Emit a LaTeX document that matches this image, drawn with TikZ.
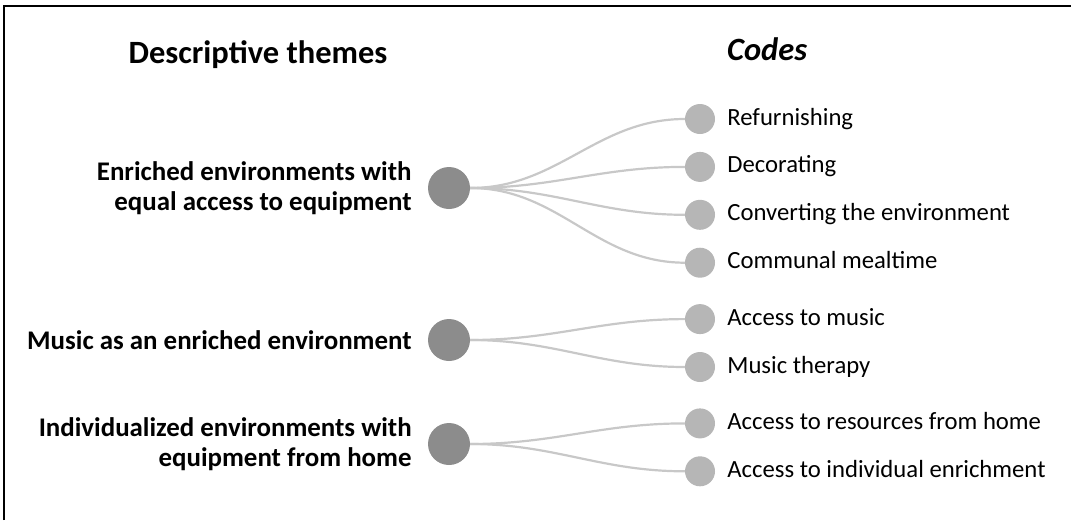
\documentclass[tikz,border=0pt]{standalone}
\usepackage{fontspec}
\setmainfont{Carlito}
\usetikzlibrary{positioning}
\definecolor{themegray}{RGB}{140,140,140}
\definecolor{codegray}{RGB}{182,182,182}
\definecolor{linkgray}{RGB}{200,200,200}

\begin{document}
\begin{tikzpicture}[x=1pt,y=-1pt,node distance=17.5pt,
  theme/.style={circle,fill=themegray,minimum size=42pt,inner sep=0pt},
  code/.style={circle,fill=codegray,minimum size=30pt,inner sep=0pt},
  themetext/.style={font=\fontsize{26.9}{30}\selectfont\bfseries,align=right,inner sep=0pt},
  codetext/.style={font=\fontsize{24.7}{29}\selectfont,inner sep=0pt,text height=16pt,text depth=4pt},
  heading/.style={font=\fontsize{32.5}{38}\selectfont\bfseries,inner sep=0pt},
  link/.style={draw=linkgray,line width=2.2pt,out=0,in=180}]
  \useasboundingbox (0,0) rectangle (1071,520);
  \draw[line width=2pt] (4,520) -- (4,5.5) -- (1071,5.5);

  \node[heading,anchor=base] (hthemes) at (258,63) {Descriptive themes};
  \node[heading,anchor=base west] (hcodes) at (727,60) {\itshape Codes};

  \node[code] (c1) at (700,119) {};
  \node[code] (c2) [below=of c1] {};
  \node[code] (c3) [below=of c2] {};
  \node[code] (c4) [below=of c3] {};
  \node[code] (c5) [below=26pt of c4] {};
  \node[code] (c6) [below=of c5] {};
  \node[code] (c7) [below=26pt of c6] {};
  \node[code] (c8) [below=of c7] {};

  \node[theme] (t1) at (449,188) {};
  \node[theme] (t2) at (449,340) {};
  \node[theme] (t3) at (449,444) {};

  \node[themetext] (l1) [left=16pt of t1] {Enriched environments with\\equal access to equipment};
  \node[themetext] (l2) [left=16pt of t2] {Music as an enriched environment};
  \node[themetext] (l3) [left=16pt of t3] {Individualized environments with\\equipment from home};

  \node[codetext] (k1) [right=12pt of c1] {Refurnishing};
  \node[codetext] (k2) [right=12pt of c2] {Decorating};
  \node[codetext] (k3) [right=12pt of c3] {Converting the environment};
  \node[codetext] (k4) [right=12pt of c4] {Communal mealtime};
  \node[codetext] (k5) [right=12pt of c5] {Access to music};
  \node[codetext] (k6) [right=12pt of c6] {Music therapy};
  \node[codetext] (k7) [right=12pt of c7] {Access to resources from home};
  \node[codetext] (k8) [right=12pt of c8] {Access to individual enrichment};

  \path (t1.east) edge [link] (c1.west)
                  edge [link] (c2.west)
                  edge [link] (c3.west)
                  edge [link] (c4.west)
        (t2.east) edge [link] (c5.west)
                  edge [link] (c6.west)
        (t3.east) edge [link] (c7.west)
                  edge [link] (c8.west);
\end{tikzpicture}
\end{document}
